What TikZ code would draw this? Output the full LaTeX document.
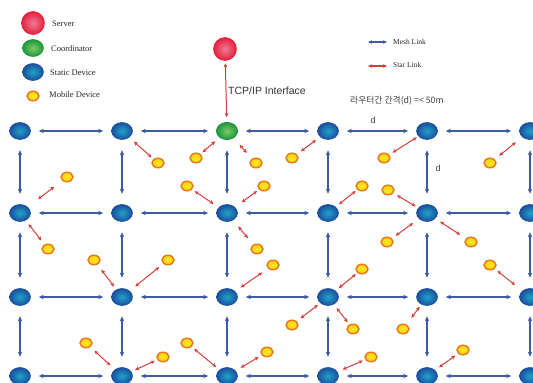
\documentclass[tikz,border=0pt]{standalone}
\usepackage{fontspec}
\setmainfont{Liberation Serif}
\newfontfamily\sansf{Liberation Sans}
\newfontfamily\kor{Noto Sans CJK KR}
\usetikzlibrary{shapes.geometric,arrows.meta}
\definecolor{meshc}{HTML}{3F5CA2}
\definecolor{starc}{HTML}{D2403C}
\definecolor{blueout}{HTML}{1B4F9E}
\definecolor{bluein}{HTML}{1FA3C9}
\definecolor{greenout}{HTML}{1E9A3A}
\definecolor{greenin}{HTML}{7CC86A}
\definecolor{redout}{HTML}{E6203C}
\definecolor{redin}{HTML}{F07A96}
\definecolor{mobout}{HTML}{EA7A1A}
\definecolor{mobin}{HTML}{FFE81E}
\tikzset{
  staticdev/.style={ellipse, minimum width=21pt, minimum height=17pt, inner sep=0pt,
    draw=blueout, line width=0.6pt, inner color=bluein, outer color=blueout},
  coorddev/.style={ellipse, minimum width=21pt, minimum height=17pt, inner sep=0pt,
    draw=greenout, line width=0.6pt, inner color=greenin, outer color=greenout},
  serverdev/.style={circle, minimum size=23pt, inner sep=0pt,
    draw=redout, line width=0.6pt, inner color=redin, outer color=redout},
  mobiledev/.style={ellipse, minimum width=12pt, minimum height=9.5pt, inner sep=0pt,
    draw=mobout, line width=1.5pt, inner color=mobin, outer color=mobin!80!orange},
  meshtips/.style={{Stealth[length=5pt,width=4.4pt]}-{Stealth[length=5pt,width=4.4pt]}},
  meshh/.style={draw=meshc, line width=1.3pt, meshtips, shorten <=8pt, shorten >=8pt},
  meshv/.style={draw=meshc, line width=1.3pt, meshtips, shorten <=10.5pt, shorten >=10.5pt},
  startips/.style={{Stealth[length=4.2pt,width=3.8pt]}-{Stealth[length=4.2pt,width=3.8pt]}},
  starlink/.style={draw=starc, line width=1pt, startips},
  legtext/.style={anchor=west, font=\fontsize{8.5}{10}\selectfont, inner sep=0pt, text=black!85},
  legtext2/.style={anchor=west, font=\fontsize{7.5}{9}\selectfont, inner sep=0pt, text=black!85},
}
\begin{document}
\begin{tikzpicture}[x=1pt,y=-1pt]
\useasboundingbox (0,0) rectangle (533,383);
\clip (0,0) rectangle (533,383);
\fill[white] (0,0) rectangle (533,383);
% legend (left)
\node[serverdev] (lsrv) at (33,23) {};
\node[coorddev] (lcrd) at (33,48) {};
\node[staticdev] (lsta) at (33,72) {};
\node[mobiledev] (lmob) at (33,96) {};
\node[legtext] (tsrv) at (52,24) {Server};
\node[legtext] (tcrd) at (51,49) {Coordinator};
\node[legtext] (tsta) at (50,73) {Static Device};
\node[legtext] (tmob) at (49,95) {Mobile Device};
% legend (right)
\coordinate (ma) at (368,42); \coordinate (mb) at (387,42);
\coordinate (sa) at (368,66); \coordinate (sb) at (387,66);
\draw[draw=meshc, line width=1.1pt, {Stealth[length=4pt,width=3.6pt]}-{Stealth[length=4pt,width=3.6pt]}] (ma) -- (mb);
\draw[draw=starc, line width=1.1pt, {Stealth[length=4pt,width=3.6pt]}-{Stealth[length=4pt,width=3.6pt]}] (sa) -- (sb);
\node[legtext2] (tmesh) at (393,42) {Mesh Link};
\node[legtext2] (tstar) at (393,65) {Star Link};
\node[anchor=west, inner sep=0pt, font=\kor\fontsize{8.8}{10}\selectfont, text=black!75] (tdist) at (350,101) {라우터간 간격(d) =< 50m};
% grid of static devices
\foreach \x [count=\i] in {20,122,227,328,427,530} {
  \foreach \y [count=\j] in {131,213,297,376} {
    \node[staticdev] (n\i-\j) at (\x,\y) {};
  }
}
\node[coorddev] (n3-1) at (227,131) {};
\node[serverdev] (srv) at (225,49) {};
% mesh links
\foreach \i/\k in {1/2,2/3,3/4,4/5,5/6} {
  \foreach \j in {1,2,3,4} { \draw[meshh] (n\i-\j) -- (n\k-\j); }
}
\foreach \i in {1,...,6} {
  \foreach \j/\l in {1/2,2/3,3/4} { \draw[meshv] (n\i-\j) -- (n\i-\l); }
}
% server link
\draw[draw=starc, line width=1pt, startips, shorten <=2.5pt, shorten >=5pt] (srv) -- (n3-1);
\node[anchor=west, inner sep=0pt, font=\sansf\fontsize{10.5}{12}\selectfont, text=black!80] (ttcp) at (228,91) {TCP/IP Interface};
\node[inner sep=0pt, font=\sansf\fontsize{9}{10}\selectfont, text=black!75] (td1) at (373,120) {d};
\node[inner sep=0pt, font=\sansf\fontsize{9}{10}\selectfont, text=black!75] (td2) at (438,168) {d};
% mobile devices and star links (position / target / gap at mobile / gap at static)
\foreach \mx/\my/\tg/\ga/\gb [count=\m] in {
  158/163/n2-1/8.5/15.8, 196/158/n3-1/8.6/15.6, 256/163/n3-1/13.6/18.6,
  67/177/n1-2/15.8/22.7, 187/186/n3-2/9.2/16.2, 264/186/n3-2/8.5/18,
  48/249/n1-2/10.8/14, 257/249/n3-2/14/17.5, 292/158/n4-1/11/15,
  384/158/n5-1/10/12, 490/163/n6-1/11.7/18, 362/186/n4-2/8/14,
  388/190/n5-2/10.3/13, 387/242/n5-2/10.6/17.2, 471/242/n5-2/13/15.6,
  94/260/n2-3/12/13, 168/260/n2-3/11.3/17, 273/265/n3-3/13/16.5,
  86/343/n2-4/11.4/15.6, 163/357/n2-4/9/14.3, 187/343/n3-4/9.2/13.9,
  267/352/n3-4/9.8/16, 362/269/n4-3/8/14, 490/265/n6-3/9.4/19,
  292/325/n4-3/10.6/12.8, 353/329/n4-3/8.5/14, 403/329/n5-3/14/12.2,
  371/357/n4-4/9/16, 463/350/n5-4/9.4/14.8} {
  \node[mobiledev] (mb\m) at (\mx,\my) {};
  \draw[starlink, shorten <=\ga pt, shorten >=\gb pt] (mb\m.center) -- (\tg.center);
}
\end{tikzpicture}
\end{document}
